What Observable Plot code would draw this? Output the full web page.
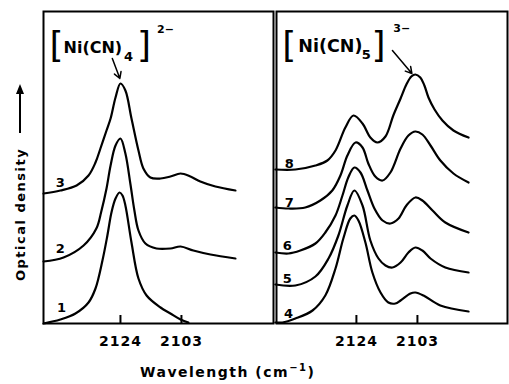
<!DOCTYPE html>
<html><head><meta charset="utf-8">
<script src="https://cdn.jsdelivr.net/npm/d3@7"></script>
<script src="https://cdn.jsdelivr.net/npm/@observablehq/plot@0.6"></script>
<style>
body{margin:0;background:#fff;}
#chart{position:relative;width:509px;height:384px;background:#fff;}
#chart svg{position:absolute;top:0;display:block;overflow:visible;}
#chart text{font-family:"DejaVu Sans",sans-serif;}
#chart [aria-label="x-axis tick label"] text{letter-spacing:1px;}
</style>
</head><body><div id="chart"></div>
<script>
// ---- data (wavenumber cm^-1, optical density in arbitrary units) ----
const xTicks = [2124, 2103];
const panels = ["L", "R"];
const curveIds = [1, 2, 3, 4, 5, 6, 7, 8];
const curvePanel = ["L", "L", "L", "R", "R", "R", "R", "R"];

const w1 = [2150.5,2144.7,2139.5,2135.0,2132.6,2130.2,2128.5,2127.1,2125.7,2124.3,2123.3,2122.3,2120.2,2117.8,2115.0,2110.2,2106.8,2103.3,2100.6];
const od1 = [0,4,10,21,35,63,88,111,125,131,128,118,81,45,28,16,10,4,1];

const w2 = [2150.5,2143.6,2136.7,2132.3,2130.6,2128.8,2127.4,2125.7,2124.0,2122.3,2120.6,2119.2,2117.8,2115.4,2111.6,2106.8,2103.3,2098.9,2093.0,2084.4];
const od2 = [62,66,78,95,112,135,158,178,185,170,140,113,93,80,75,75,77,73,69,65];

const w3 = [2150.5,2144.7,2139.1,2135.0,2132.6,2130.9,2128.8,2127.4,2125.7,2124.0,2122.3,2120.2,2117.8,2116.1,2113.7,2110.2,2106.8,2103.3,2099.9,2096.5,2091.3,2084.4];
const od3 = [130,133,138,148,161,175,193,205,226,240,233,205,173,155,146,145,147,150,147,142,137,133];

const w4 = [2151.9,2149.5,2145.0,2139.1,2134.7,2131.2,2128.5,2126.1,2124.7,2123.3,2120.9,2118.5,2115.7,2113.0,2110.6,2108.8,2105.4,2103.7,2100.9,2095.1,2085.4];
const od4 = [1,1,5,13,28,55,85,105,108,103,81,51,31,21,20,23,30,31,28,18,12];

const w5 = [2151.9,2145.0,2138.1,2133.6,2130.2,2127.1,2124.7,2121.9,2119.2,2116.4,2114.0,2111.6,2108.8,2106.1,2103.7,2101.3,2098.5,2093.4,2085.4];
const od5 = [39,38,47,65,88,118,133,118,83,65,58,56,61,71,76,73,65,56,51];

const w6 = [2151.9,2147.4,2143.3,2138.1,2134.7,2131.2,2128.8,2126.8,2124.7,2122.6,2120.2,2117.8,2115.0,2112.3,2109.5,2106.8,2103.7,2101.3,2097.8,2093.4,2085.4];
const od6 = [71,70,73,80,91,108,128,146,156,151,133,115,103,100,105,118,126,123,113,101,91];

const w7 = [2151.9,2147.4,2141.6,2136.4,2132.3,2129.5,2127.1,2124.3,2121.9,2119.9,2117.5,2115.0,2112.3,2108.8,2106.1,2103.7,2101.3,2098.5,2095.1,2090.6,2085.4];
const od7 = [116,115,116,123,133,148,168,181,176,160,147,143,151,175,188,192,189,178,163,150,141];

const w8 = [2151.9,2145.0,2138.1,2134.0,2131.2,2127.8,2125.0,2121.9,2119.2,2116.8,2114.0,2111.3,2108.8,2106.8,2105.1,2103.7,2102.0,2100.6,2099.2,2097.1,2094.4,2090.6,2085.4];
const od8 = [154,154,158,163,173,196,208,200,186,181,187,208,225,239,247,249,246,238,226,214,203,193,186];

const labelW = [2144.3, 2144.7, 2144.7, 2147.4, 2147.8, 2147.8, 2147.1, 2147.1];
const labelOD = [16, 75, 141, 10, 45, 78, 121, 160];

// formula annotations
const formulaPanel = ["L", "R"];
const formulaBody = ["Ni(CN)", "Ni(CN)"];
const formulaSub = ["4", "5"];
const formulaCharge = ["2\u2212", "3\u2212"];
const bodyW = [2143.6, 2144.0], bodyOD = [276, 277];
const openW = [2146.0, 2147.1], closeW = [2115.9, 2116.4], bracketOD = [278, 278];
const subW = [2121.2, 2120.6], subOD = [267, 269];
const chargeW = [2111.4, 2111.3], chargeOD = [294, 295];
const arrowW1 = [2126.8, 2111.6], arrowOD1 = [265, 273];
const arrowW2 = [2124.2, 2104.9], arrowOD2 = [245, 250];

// ---- build tables ----
const waves = [w1, w2, w3, w4, w5, w6, w7, w8];
const ods = [od1, od2, od3, od4, od5, od6, od7, od8];
const lineData = curveIds.flatMap((id, i) => waves[i].map((w, j) => ({id, panel: curvePanel[i], w, od: ods[i][j]})));
const labelData = curveIds.map((id, i) => ({id, panel: curvePanel[i], w: labelW[i], od: labelOD[i]}));
const formula = formulaPanel.map((p, i) => ({
  panel: p, body: formulaBody[i], sub: formulaSub[i], charge: formulaCharge[i],
  bw: bodyW[i], bod: bodyOD[i], ow: openW[i], cw: closeW[i], brod: bracketOD[i],
  sw: subW[i], sod: subOD[i], chw: chargeW[i], chod: chargeOD[i],
  x1: arrowW1[i], y1: arrowOD1[i], x2: arrowW2[i], y2: arrowOD2[i]
}));

// panel layout
const layout = {
  L: {left: 0, width: 275, ml: 43, mr: 2, domain: [2150.5, 2071.3], bodySize: 16},
  R: {left: 274, width: 235, ml: 2, mr: 2, domain: [2151.5, 2072.0], bodySize: 17.5}
};

function panelPlot(p) {
  const L = layout[p];
  const lines = lineData.filter(d => d.panel === p);
  const labels = labelData.filter(d => d.panel === p);
  const f = formula.filter(d => d.panel === p);
  const svg = Plot.plot({
    width: L.width, height: 384,
    marginLeft: L.ml, marginRight: L.mr, marginTop: 11, marginBottom: 61,
    style: {background: "transparent", color: "black", fontFamily: "DejaVu Sans", overflow: "visible"},
    x: {domain: L.domain},
    y: {domain: [0, 312], axis: null},
    marks: [
      Plot.frame({stroke: "black", strokeWidth: 2}),
      Plot.axisX({ticks: xTicks, tickSize: 0, tickPadding: 13, fontSize: 14, fontWeight: "bold", tickFormat: d => String(d), label: null}),
      Plot.ruleX(xTicks, {x: d => d, y1: 0, y2: 8, stroke: "black", strokeWidth: 2}),
      Plot.line(lines, {x: "w", y: "od", z: "id", curve: "catmull-rom", stroke: "black", strokeWidth: 2.2}),
      Plot.text(labels, {x: "w", y: "od", text: d => String(d.id), fontSize: 13, fontWeight: "bold", fill: "black"}),
      Plot.text(f, {x: "ow", y: "brod", text: () => "[", fontSize: 36, fill: "black"}),
      Plot.text(f, {x: "cw", y: "brod", text: () => "]", fontSize: 36, fill: "black"}),
      Plot.text(f, {x: "bw", y: "bod", text: "body", textAnchor: "start", fontSize: L.bodySize, fontWeight: "bold", fill: "black"}),
      Plot.text(f, {x: "sw", y: "sod", text: "sub", fontSize: 13, fontWeight: "bold", fill: "black"}),
      Plot.text(f, {x: "chw", y: "chod", text: "charge", textAnchor: "start", fontSize: 11, fontWeight: "bold", fill: "black"}),
      Plot.arrow(f, {x1: "x1", y1: "y1", x2: "x2", y2: "y2", stroke: "black", strokeWidth: 1.5, headLength: 7})
    ]
  });
  svg.style.left = L.left + "px";
  return svg;
}

const root = document.getElementById("chart");
panels.forEach(p => root.appendChild(panelPlot(p)));

// axis titles
const overlay = d3.create("svg").attr("width", 509).attr("height", 384).style("left", "0px");
const xl = overlay.append("text").attr("x", 140).attr("y", 377).attr("text-anchor", "start")
  .attr("font-size", 14).attr("font-weight", "bold").attr("letter-spacing", 1.5).attr("fill", "black");
xl.append("tspan").text("Wavelength (cm");
xl.append("tspan").attr("dy", -6).attr("font-size", 10).text("\u22121");
xl.append("tspan").attr("dy", 6).text(")");

overlay.append("text").attr("transform", "translate(25,281) rotate(-90)").attr("text-anchor", "start")
  .attr("font-size", 13).attr("font-weight", "bold").attr("letter-spacing", 1.5).attr("fill", "black")
  .text("Optical density");
overlay.append("line").attr("x1", 20).attr("y1", 133).attr("x2", 20).attr("y2", 92)
  .attr("stroke", "black").attr("stroke-width", 2);
overlay.append("path").attr("d", "M20,84 L16,94 L24,94 Z").attr("fill", "black");
root.appendChild(overlay.node());
</script></body></html>
